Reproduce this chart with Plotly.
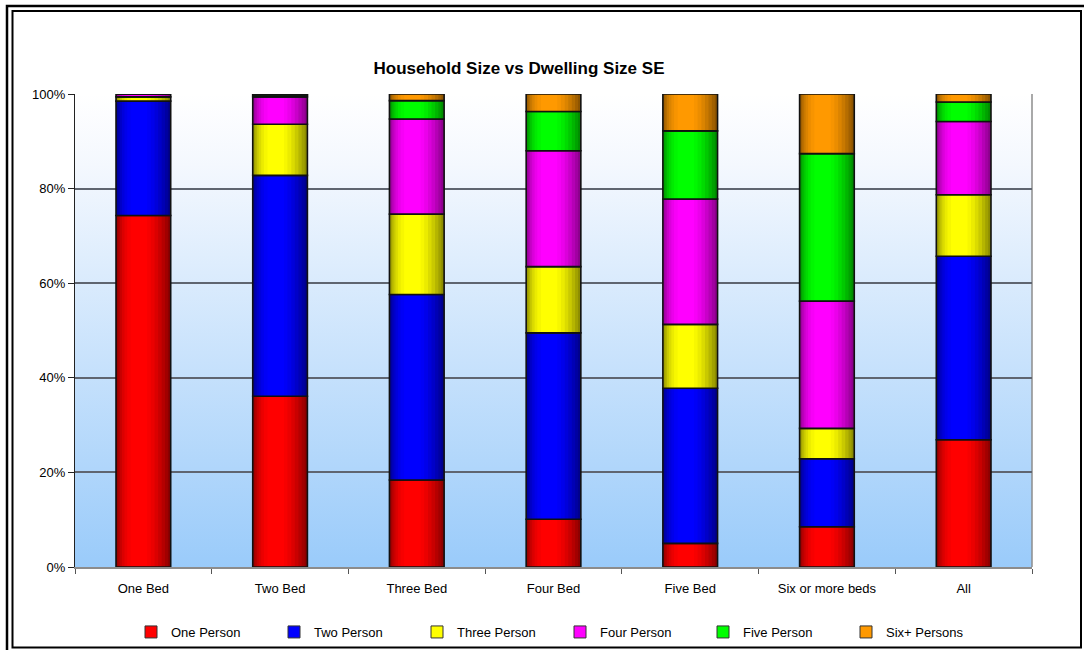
import base64
import plotly.graph_objects as go

# ---------------- data ----------------
categories = ["One Bed", "Two Bed", "Three Bed", "Four Bed", "Five Bed",
              "Six or more beds", "All"]
series_names = ["One Person", "Two Person", "Three Person", "Four Person",
                "Five Person", "Six+ Persons"]
one_person   = [74.3, 36.1, 18.4, 10.1,  5.0,  8.5, 26.9]
two_person   = [24.2, 46.7, 39.2, 39.4, 32.8, 14.4, 38.8]
three_person = [ 0.9, 10.8, 17.0, 14.0, 13.5,  6.4, 13.0]
four_person  = [ 0.6,  5.8, 20.1, 24.5, 26.5, 26.9, 15.5]
five_person  = [ 0.0,  0.4,  3.9,  8.3, 14.4, 31.2,  4.1]
six_plus     = [ 0.0,  0.2,  1.4,  3.7,  7.8, 12.6,  1.7]
y_tick_vals  = [0, 20, 40, 60, 80, 100]
y_tick_text  = ["0%", "20%", "40%", "60%", "80%", "100%"]
title_text = "Household Size vs Dwelling Size SE"

series_values = [one_person, two_person, three_person, four_person,
                 five_person, six_plus]
series_colors = [(255, 0, 0), (0, 0, 255), (255, 255, 0), (255, 0, 255),
                 (0, 255, 0), (255, 153, 0)]

# ---------------- geometry helpers ----------------
W, H = 1084, 650
ML, MR, MT, MB = 75, 52, 94, 83
PW, PH = W - ML - MR, H - MT - MB


def px_x(p):
    return (p - ML) / PW


def px_y(p):
    return (H - MB - p) / PH


FONT = "Liberation Sans, Arial, sans-serif"
BAR_W = 0.40
# shading layers: (relative width, centre shift as fraction of bar width, brightness)
layers = [(1.00, 0.00, 0.55), (0.93, -0.015, 0.63), (0.85, -0.03, 0.71),
          (0.76, -0.045, 0.79), (0.66, -0.06, 0.86), (0.55, -0.07, 0.92),
          (0.43, -0.08, 0.97), (0.30, -0.08, 1.00)]


def rgb(c, f=1.0):
    return "rgb(%d,%d,%d)" % tuple(int(round(v * f)) for v in c)


fig = go.Figure()

# legend-only entries
for name, col in zip(series_names, series_colors):
    fig.add_trace(go.Bar(x=[None], y=[None], name=name,
                         marker=dict(color=rgb(col), line=dict(color="#333", width=1)),
                         showlegend=True, legendgroup=name))

# cumulative bases
bases = []
running = [0.0] * len(categories)
for vals in series_values:
    bases.append(list(running))
    running = [r + v for r, v in zip(running, vals)]

for name, vals, base, col in zip(series_names, series_values, bases, series_colors):
    for rw, shift, f in layers:
        w = BAR_W * rw
        fig.add_trace(go.Bar(
            x=categories, y=vals, base=base, width=w,
            offset=-w / 2 + shift * BAR_W,
            marker=dict(color=rgb(col, f), line=dict(width=0)),
            showlegend=False, legendgroup=name, hoverinfo="skip"))
    fig.add_trace(go.Bar(
        x=categories, y=vals, base=base, width=BAR_W, offset=-BAR_W / 2,
        marker=dict(color="rgba(0,0,0,0)", line=dict(color="#111111", width=1.6)),
        showlegend=False, legendgroup=name, name=name,
        hovertemplate="%{x}<br>" + name + ": %{y:.1f}%<extra></extra>"))

# plot-area background gradient
svg = ('<svg xmlns="http://www.w3.org/2000/svg" width="100" height="100" '
       'preserveAspectRatio="none"><defs><linearGradient id="g" x1="0" y1="0" '
       'x2="0" y2="1"><stop offset="0" stop-color="#FFFFFF"/>'
       '<stop offset="0.15" stop-color="#F4F8FE"/>'
       '<stop offset="1" stop-color="#9ACBFA"/></linearGradient></defs>'
       '<rect width="100" height="100" fill="url(#g)"/></svg>')
src = "data:image/svg+xml;base64," + base64.b64encode(svg.encode()).decode()

shapes = [
    # outer double frame
    dict(type="rect", xref="paper", yref="paper", x0=px_x(7), x1=px_x(1096),
         y0=px_y(661), y1=px_y(6), line=dict(color="black", width=2.5),
         fillcolor="rgba(0,0,0,0)", layer="above"),
    dict(type="rect", xref="paper", yref="paper", x0=px_x(12.5), x1=px_x(1081),
         y0=px_y(647.5), y1=px_y(11), line=dict(color="black", width=2),
         fillcolor="rgba(0,0,0,0)", layer="above"),
    # right plot border
    dict(type="line", xref="paper", yref="paper", x0=1, x1=1, y0=0, y1=1,
         line=dict(color="#8c8c8c", width=1.5), layer="below"),
]

fig.update_layout(
    width=W, height=H,
    margin=dict(l=ML, r=MR, t=MT, b=MB, pad=0, autoexpand=False),
    paper_bgcolor="white", plot_bgcolor="rgba(0,0,0,0)",
    barmode="overlay", bargap=0.6,
    font=dict(family=FONT, size=13, color="black"),
    title=dict(text="<b>" + title_text + "</b>", x=px_x(519), xref="paper",
               y=1 - 68 / H, yref="container", xanchor="center", yanchor="middle",
               font=dict(family=FONT, size=17, color="black")),
    images=[dict(source=src, xref="paper", yref="paper", x=0, y=1, sizex=1, sizey=1,
                 sizing="stretch", layer="below", xanchor="left", yanchor="top")],
    shapes=shapes,
    xaxis=dict(type="category", categoryorder="array", categoryarray=categories,
               showline=True, linecolor="#8c8c8c", linewidth=1.5,
               ticks="outside", tickson="boundaries", ticklen=5, tickcolor="#555",
               tickwidth=1, showgrid=False, ticklabelstandoff=9,
               tickfont=dict(family=FONT, size=13, color="black")),
    yaxis=dict(range=[0, 100], tickvals=y_tick_vals, ticktext=y_tick_text,
               showline=True, linecolor="#222", linewidth=1.2,
               ticks="outside", ticklen=6, tickcolor="#222",
               showgrid=True, gridcolor="#5f6570", gridwidth=1.6, zeroline=False,
               tickfont=dict(family=FONT, size=13, color="black")),
    legend=dict(orientation="h", x=px_x(131), xanchor="left", y=px_y(632),
                yanchor="middle", entrywidth=98, entrywidthmode="pixels",
                font=dict(family=FONT, size=13, color="black"),
                bgcolor="rgba(0,0,0,0)", itemwidth=30, traceorder="normal"),
)

fig.write_html("out.html")
